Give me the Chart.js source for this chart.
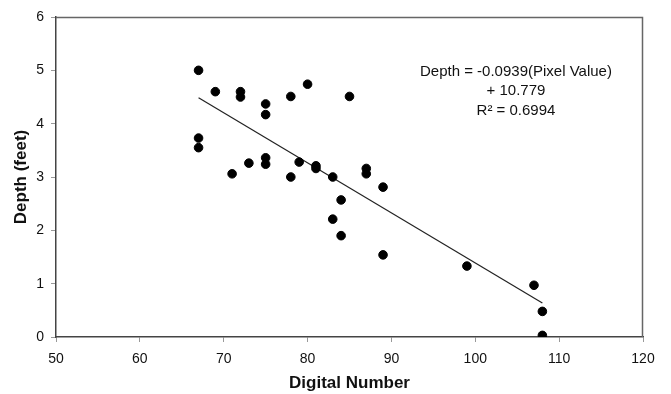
<!DOCTYPE html>
<html>
<head>
<meta charset="utf-8">
<script src="https://cdn.jsdelivr.net/npm/chart.js@4"></script>
<style>
  html, body { margin: 0; padding: 0; background: #fff; }
  #wrap { width: 671px; height: 394px; }
</style>
</head>
<body>
<div id="wrap"><canvas id="depthChart"></canvas></div>
<script>
const digitalNumber = [67, 69, 72, 72, 75, 75, 78, 80, 85, 67, 67, 71, 73, 75, 75, 78, 79, 81, 81, 83, 87, 87, 89, 84, 83, 84, 89, 99, 107, 108, 108];
const depthFeet = [5.0, 4.60, 4.60, 4.50, 4.37, 4.17, 4.51, 4.74, 4.51, 3.73, 3.55, 3.06, 3.26, 3.36, 3.24, 3.00, 3.28, 3.21, 3.16, 3.00, 3.16, 3.06, 2.81, 2.57, 2.21, 1.90, 1.54, 1.33, 0.97, 0.48, 0.03];
const trendX = [67, 108];
const slope = -0.0939, intercept = 10.779;
const equationLines = ['Depth = -0.0939(Pixel Value)', '+ 10.779', 'R² = 0.6994'];

const points = digitalNumber.map((x, i) => ({ x: x, y: depthFeet[i] }));
const trend = trendX.map(x => ({ x: x, y: slope * x + intercept }));

const frameAndText = {
  id: 'frameAndText',
  afterDraw(chart) {
    const c = chart.ctx, a = chart.chartArea;
    c.save();
    c.strokeStyle = '#666';
    c.lineWidth = 1.5;
    c.beginPath();
    c.moveTo(a.left, a.top + 0.5);
    c.lineTo(a.right - 0.5, a.top + 0.5);
    c.lineTo(a.right - 0.5, a.bottom);
    c.stroke();
    c.fillStyle = '#111';
    c.font = '15px "Liberation Sans", Arial, sans-serif';
    c.textAlign = 'center';
    c.textBaseline = 'middle';
    const cx = chart.scales.x.getPixelForValue(104.85);
    const ys = [72, 91, 111];
    equationLines.forEach((t, i) => c.fillText(t, cx, ys[i]));
    c.restore();
  }
};

new Chart(document.getElementById('depthChart'), {
  type: 'scatter',
  data: {
    datasets: [{
      label: 'Depth',
      data: points,
      backgroundColor: '#000',
      borderColor: '#000',
      pointRadius: 4.3,
      pointHoverRadius: 4.3
    }, {
      type: 'line',
      label: 'Trend',
      data: trend,
      borderColor: '#222',
      borderWidth: 1.2,
      pointRadius: 0,
      fill: false
    }]
  },
  options: {
    responsive: true,
    maintainAspectRatio: false,
    animation: false,
    layout: { padding: { top: 17, right: 28, left: 0, bottom: 0 } },
    plugins: { legend: { display: false }, tooltip: { enabled: false } },
    scales: {
      x: {
        type: 'linear',
        min: 50, max: 120,
        ticks: { stepSize: 10, color: '#111', font: { size: 14, family: '"Liberation Sans", Arial' }, padding: 9 },
        grid: { drawOnChartArea: false, color: '#999', tickLength: 5 },
        border: { color: '#444', width: 1.5 },
        title: { display: true, text: 'Digital Number', color: '#111', font: { size: 17, weight: 'bold', family: '"Liberation Sans", Arial' }, padding: { top: 8, bottom: 0 } },
        afterFit(s) { s.height = 57; }
      },
      y: {
        min: 0, max: 6,
        ticks: { stepSize: 1, color: '#111', font: { size: 14, family: '"Liberation Sans", Arial' }, padding: 7 },
        grid: { drawOnChartArea: false, color: '#999', tickLength: 5 },
        border: { color: '#444', width: 1.5 },
        title: { display: true, text: 'Depth (feet)', color: '#111', font: { size: 17, weight: 'bold', family: '"Liberation Sans", Arial' }, padding: { top: 11, bottom: 0 } },
        afterFit(s) { s.width = 56; }
      }
    }
  },
  plugins: [frameAndText]
});
</script>
</body>
</html>
